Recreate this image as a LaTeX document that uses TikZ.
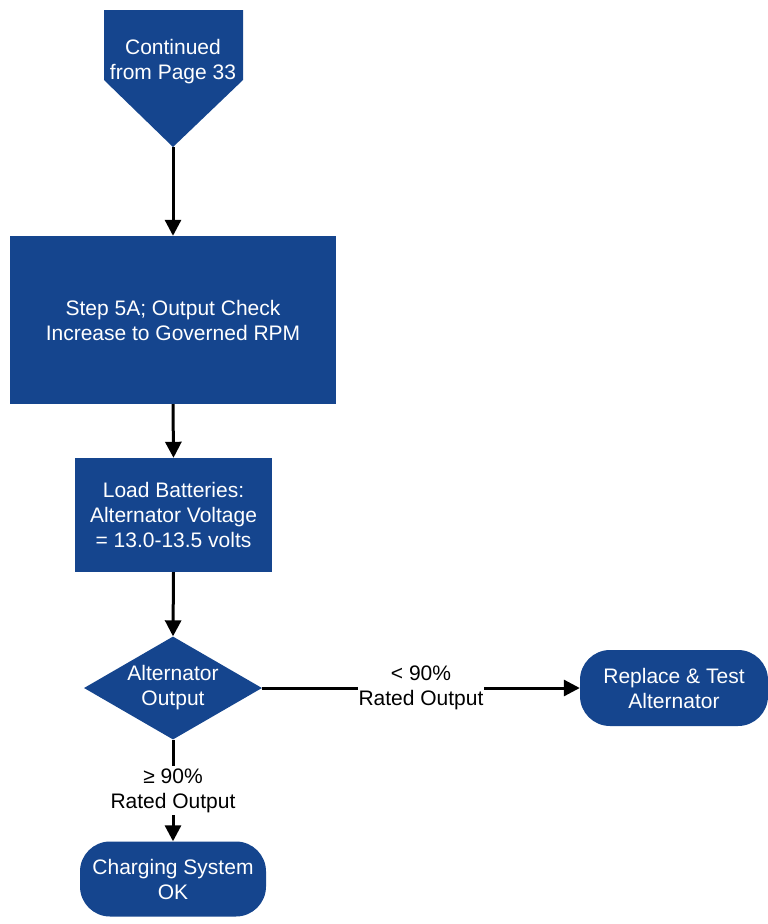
\documentclass[tikz,border=0pt]{standalone}
\usepackage{fontspec}
\setmainfont{Liberation Sans}
\usetikzlibrary{arrows.meta,shapes.geometric}
\definecolor{chartblue}{RGB}{21,69,142}

\tikzset{
  boxtext/.style={text=white, align=center, font=\fontsize{21}{25}\selectfont},
  procbox/.style={boxtext, fill=chartblue, inner sep=0pt},
  termbox/.style={procbox, rounded corners=30pt},
  decbox/.style={boxtext, fill=chartblue, diamond, aspect=1.73, inner sep=-4pt},
  flowline/.style={line width=3pt, -{Triangle[width=16pt,length=16pt]}},
  branchlbl/.style={fill=white, align=center, inner xsep=1pt, inner ysep=2pt,
    font=\fontsize{21}{25}\selectfont},
}

\begin{document}
\begin{tikzpicture}[x=1pt,y=-1pt]
    \useasboundingbox (0,0) rectangle (768,924);

    % off-page connector
    \fill[chartblue] (104,10) -- (243,10) -- (243,80) -- (173,147) -- (104,80) -- cycle;
    \node[boxtext] (cont) at (173,62) {Continued\\from Page 33};
    \coordinate (conttip) at (173,147);

    % process steps
    \node[procbox, minimum width=326pt, minimum height=168pt] (step) at (173,320)
        {Step 5A; Output Check\\Increase to Governed RPM};
    \node[procbox, minimum width=197pt, minimum height=114pt] (load) at (173.5,515)
        {Load Batteries:\\Alternator Voltage\\= 13.0-13.5 volts};

    % decision
    \node[decbox, minimum width=178pt, minimum height=103pt] (dec) at (173,688)
        {Alternator\\Output};

    % end points
    \node[termbox, minimum width=188pt, minimum height=76pt] (repl) at (674,688)
        {Replace \& Test\\Alternator};
    \node[termbox, minimum width=186pt, minimum height=75pt] (ok) at (173,879)
        {Charging System\\OK};

    % connectors
    \draw[flowline] (conttip) -- (step.north);
    \draw[flowline] (step.south) -- (load.north);
    \draw[flowline] (load.south) -- (dec.north);
    \draw[flowline] (dec.east) -- node[branchlbl] {< 90\%\\Rated Output} (repl.west);
    \draw[flowline] (dec.south) -- node[branchlbl] {≥ 90\%\\Rated Output} (ok.north);

\end{tikzpicture}
\end{document}
